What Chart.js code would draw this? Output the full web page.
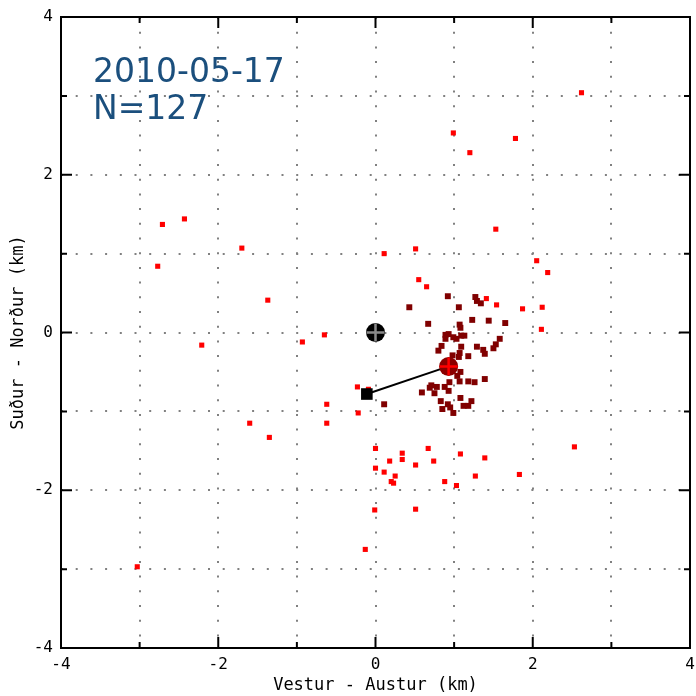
<!DOCTYPE html>
<html lang="is">
<head>
<meta charset="UTF-8" />
<title>Skjálftar 2010-05-17</title>
<script src="https://cdn.jsdelivr.net/npm/chart.js"></script>
<style>
  * { margin: 0; padding: 0; box-sizing: border-box; }
  body { background: #ffffff; }
  .wrap { width: 696px; height: 696px; position: relative; }
</style>
</head>
<body>
<div class="wrap"><canvas id="chart"></canvas></div>
<script>
// Stakir skjálftar (rauðir)
const redX = [2.62, 0.99, 1.78, 1.20, 1.53, 0.51, 0.11, 2.05, 2.19, 0.55, 0.65, 1.41, 1.54, 1.87, 2.12, 2.11,
  -2.71, -2.43, -1.70, -2.77, -1.37, -0.65, -0.93, -2.21, -0.23, -0.09, -0.62, -0.22, -1.60, -0.62, -1.35,
  0.00, 0.00, -0.01, -0.13, -3.03, 0.34, 0.67, 0.34, 0.18, 0.51, 0.74, 1.08, 1.39, 0.11, 0.25, 0.20, 0.23,
  0.88, 1.03, 1.27, 1.83, 0.51, 2.53];
const redY = [3.04, 2.53, 2.46, 2.28, 1.31, 1.06, 1.00, 0.91, 0.76, 0.67, 0.58, 0.43, 0.35, 0.30, 0.32, 0.04,
  1.37, 1.44, 1.07, 0.84, 0.41, -0.03, -0.12, -0.16, -0.69, -0.72, -0.91, -1.02, -1.15, -1.15, -1.33,
  -1.47, -1.72, -2.25, -2.75, -2.97, -1.53, -1.47, -1.61, -1.63, -1.68, -1.63, -1.54, -1.59, -1.77, -1.82, -1.89, -1.91,
  -1.89, -1.94, -1.82, -1.80, -2.24, -1.45];

// Skjálftar í þyrpingu (dökkrauðir)
const darkX = [0.92, 1.27, 1.29, 1.34, 0.43, 1.06, 1.23, 1.44, 1.65, 0.67, 1.07, 1.08, 0.89, 0.93, 0.99, 1.03,
  1.09, 1.13, 0.89, 1.58, 0.84, 1.09, 1.29, 1.53, 1.50, 1.37, 1.39, 1.18, 0.80, 1.07, 1.06, 0.98,
  1.08, 1.04, 0.94, 1.07, 1.18, 1.26, 1.39, 0.71, 0.69, 0.78, 0.88, 0.93, 0.59, 0.75, 1.08, 1.22,
  0.83, 0.92, 0.95, 1.12, 1.18, 0.85, 0.99, 0.11];
const darkY = [0.46, 0.45, 0.40, 0.37, 0.32, 0.32, 0.16, 0.15, 0.12, 0.11, 0.10, 0.06, -0.03, -0.02, -0.06, -0.08,
  -0.04, -0.04, -0.08, -0.08, -0.17, -0.18, -0.18, -0.15, -0.20, -0.22, -0.27, -0.30, -0.23, -0.26, -0.31, -0.29,
  -0.50, -0.55, -0.63, -0.62, -0.62, -0.63, -0.59, -0.67, -0.70, -0.69, -0.69, -0.74, -0.76, -0.77, -0.83, -0.87,
  -0.87, -0.91, -0.95, -0.93, -0.93, -0.97, -1.02, -0.91];

// Miðja, þungamiðja og fyrri þungamiðja
const originXY = [0, 0];
const centroidXY = [0.93, -0.43];
const prevXY = [-0.11, -0.78];

const dateLabel = '2010-05-17';
const countLabel = 'N=127';
const xTitle = 'Vestur - Austur (km)';
const yTitle = 'Suður - Norður (km)';

const toPts = (xs, ys) => xs.map((x, i) => ({ x: x, y: ys[i] }));

// rammi, innvísandi strik og texti
const framePlugin = {
  id: 'frame',
  afterDraw(chart) {
    const { ctx, chartArea: a, scales } = chart;
    ctx.save();
    ctx.strokeStyle = '#000';
    ctx.lineWidth = 2;
    ctx.strokeRect(a.left, a.top, a.right - a.left, a.bottom - a.top);
    for (let v = -3; v <= 3; v++) {
      const len = v % 2 === 0 ? 11 : 6;
      const px = scales.x.getPixelForValue(v);
      const py = scales.y.getPixelForValue(v);
      ctx.beginPath();
      ctx.moveTo(px, a.bottom); ctx.lineTo(px, a.bottom - len);
      ctx.moveTo(px, a.top); ctx.lineTo(px, a.top + len);
      ctx.moveTo(a.left, py); ctx.lineTo(a.left + len, py);
      ctx.moveTo(a.right, py); ctx.lineTo(a.right - len, py);
      ctx.stroke();
    }
    ctx.fillStyle = '#1b4f7d';
    ctx.font = '33px "DejaVu Sans"';
    ctx.textBaseline = 'alphabetic';
    ctx.fillText(dateLabel, 93, 82);
    ctx.fillText(countLabel, 93, 119);
    ctx.restore();
  }
};

const axisFont = { family: 'DejaVu Sans Mono', size: 16 };
const titleFont = { family: 'DejaVu Sans Mono', size: 17 };

new Chart(document.getElementById('chart'), {
  type: 'scatter',
  data: {
    datasets: [
      {
        label: 'rauðir',
        data: toPts(redX, redY),
        pointStyle: 'rect',
        pointRadius: 3.6,
        backgroundColor: '#ff0000',
        borderWidth: 0,
        order: 6
      },
      {
        label: 'dökkir',
        data: toPts(darkX, darkY),
        pointStyle: 'rect',
        pointRadius: 4.2,
        backgroundColor: '#800000',
        borderWidth: 0,
        order: 5
      },
      {
        label: 'lína',
        data: [{ x: prevXY[0], y: prevXY[1] }, { x: centroidXY[0], y: centroidXY[1] }],
        showLine: true,
        borderColor: '#000',
        borderWidth: 2,
        pointRadius: 0,
        order: 4
      },
      {
        label: 'fyrri',
        data: [{ x: prevXY[0], y: prevXY[1] }],
        pointStyle: 'rect',
        pointRadius: 8.2,
        backgroundColor: '#000',
        borderWidth: 0,
        order: 3
      },
      {
        label: 'miðja',
        data: [{ x: originXY[0], y: originXY[1] }, { x: centroidXY[0], y: centroidXY[1] }],
        pointStyle: 'circle',
        pointRadius: 9.5,
        backgroundColor: ['#000', '#8b0000'],
        borderColor: ['#000', '#8b0000'],
        borderWidth: 0,
        order: 2
      },
      {
        label: 'kross',
        data: [{ x: originXY[0], y: originXY[1] }, { x: centroidXY[0], y: centroidXY[1] }],
        pointStyle: 'cross',
        pointRadius: 9,
        borderColor: ['#8a8a8a', '#ff0000'],
        borderWidth: 2.5,
        order: 1
      }
    ]
  },
  options: {
    responsive: true,
    maintainAspectRatio: false,
    animation: false,
    layout: { autoPadding: false, padding: { top: 17, right: 6, left: 0, bottom: 0 } },
    plugins: {
      legend: { display: false },
      tooltip: { enabled: false }
    },
    scales: {
      x: {
        type: 'linear',
        min: -4,
        max: 4,
        afterFit: (s) => { s.height = 48; s.paddingLeft = 0; s.paddingRight = 0; },
        ticks: {
          stepSize: 1,
          padding: 7,
          color: '#000',
          font: axisFont,
          callback: (v) => (v % 2 === 0 ? String(v) : '')
        },
        grid: { color: '#808080', lineWidth: 2, drawTicks: false },
        border: { display: false, dash: [2, 12.7] },
        title: {
          display: true,
          text: xTitle,
          color: '#000',
          font: titleFont,
          padding: { top: 0, bottom: 0 }
        }
      },
      y: {
        type: 'linear',
        min: -4,
        max: 4,
        afterFit: (s) => { s.width = 61; s.paddingTop = 0; s.paddingBottom = 0; },
        ticks: {
          stepSize: 1,
          padding: 8,
          color: '#000',
          font: axisFont,
          callback: (v) => (v % 2 === 0 ? String(v) : '')
        },
        grid: { color: '#808080', lineWidth: 2, drawTicks: false },
        border: { display: false, dash: [2, 12.7] },
        title: {
          display: true,
          text: yTitle,
          color: '#000',
          font: titleFont,
          padding: { top: 8, bottom: 0 }
        }
      }
    }
  },
  plugins: [framePlugin]
});
</script>
</body>
</html>
